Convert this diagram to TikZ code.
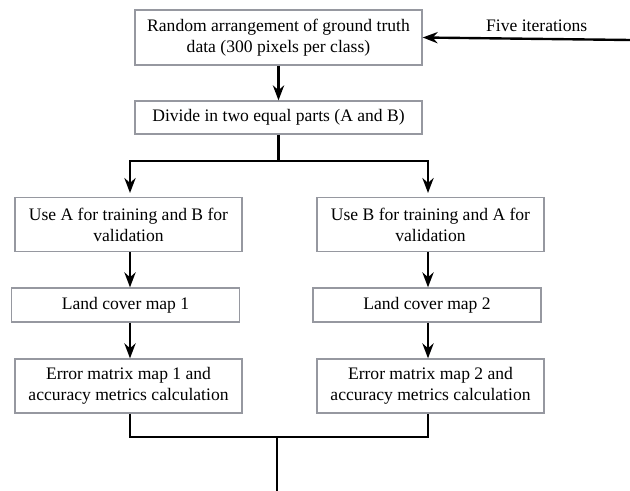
\documentclass[tikz,border=0pt]{standalone}
\usepackage{fontspec}
\setmainfont{Liberation Serif}
\usepackage{tikz}
\usetikzlibrary{positioning, arrows.meta}

\definecolor{boxgray}{RGB}{150,152,160}

\tikzset{
    stepbox/.style={draw=boxgray, line width=0.9pt, align=center, inner sep=2pt,
        font=\rmfamily\fontsize{12.5}{15}\selectfont},
    bigbox/.style={stepbox, minimum width=7.175cm, minimum height=1.375cm},
    sidebox/.style={stepbox, minimum width=5.675cm, minimum height=1.35cm},
    flatbox/.style={stepbox, minimum width=5.7cm, minimum height=0.85cm},
    link/.style={line width=1.7pt, black},
}

\begin{document}
\begin{tikzpicture}[>=Stealth, x=0.025cm, y=-0.025cm]
    \useasboundingbox (0,0) rectangle (630,491);

        % Top of the flow
        \node[bigbox] (rand) at (278.5,37.5) {Random arrangement of ground truth\\data (300 pixels per class)};
        \node[bigbox, minimum height=0.825cm] (divide) at (278.5,117.5) {Divide in two equal parts (A and B)};

        % Left branch
        \node[sidebox] (useA) at (128.5,224.5) {Use A for training and B for\\validation};
        \node[flatbox] (map1) at (125.5,305) {Land cover map 1};
        \node[sidebox] (err1) at (128.5,386) {Error matrix map 1 and\\accuracy metrics calculation};

        % Right branch
        \node[sidebox] (useB) at (430.5,224.5) {Use B for training and A for\\validation};
        \node[flatbox] (map2) at (427,305) {Land cover map 2};
        \node[sidebox] (err2) at (430.5,386) {Error matrix map 2 and\\accuracy metrics calculation};

        % Junctions
        \coordinate (split) at (278.5,161);
        \coordinate (merge) at (277,437);
        \coordinate (out) at (277,491);
        \coordinate (loop) at (630,40);

        % Arrows
        \draw[->, link] (rand) -- (divide);
        \draw[->, link] (divide) -- (split) -| (130,193);
        \draw[->, link] (split) -| (428,193);
        \draw[->, link] (useA.south -| 130,0) -- (map1.north -| 130,0);
        \draw[->, link] (map1.south -| 130,0) -- (err1.north -| 130,0);
        \draw[->, link] (useB.south -| 428,0) -- (map2.north -| 428,0);
        \draw[->, link] (map2.south -| 428,0) -- (err2.north -| 428,0);

        % Merge of both branches
        \draw[link] (err1.south -| 130,0) |- (merge) -| (err2.south -| 428,0);
        \draw[link] (merge) -- (out);

        % Iterations
        \draw[->, link] (loop) -- (rand.east) node[pos=0.45, above=1pt, font=\rmfamily\fontsize{12.5}{15}\selectfont] {Five iterations};
    \end{tikzpicture}
\end{document}
